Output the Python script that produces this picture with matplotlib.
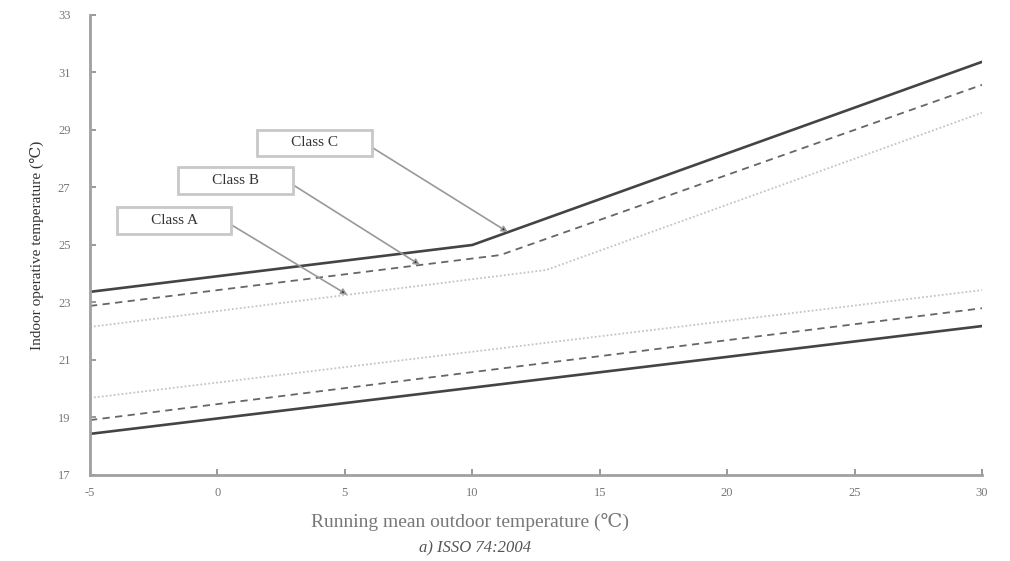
import numpy as np
import matplotlib
matplotlib.use("Agg")
import matplotlib.pyplot as plt

# ISSO 74:2004 comfort bands
# upper limits (piecewise: gentle slope, knee, steeper slope)
x_upper_a = [-5, 12.9, 30]
y_upper_a = [22.15, 24.13, 29.6]
x_upper_b = [-5, 11.1, 30]
y_upper_b = [22.88, 24.65, 30.57]
x_upper_c = [-5, 10.0, 30]
y_upper_c = [23.37, 25.0, 31.37]

# lower limits (straight)
x_lower = [-5, 30]
y_lower_a = [19.68, 23.43]
y_lower_b = [18.91, 22.8]
y_lower_c = [18.43, 22.18]

# callouts: label, arrow target x on upper line, label position
class_labels = ["Class A", "Class B", "Class C"]
target_x = [5.1, 7.95, 11.4]
label_x = [-1.7, 0.7, 3.8]
label_y = [25.85, 27.25, 28.55]

x_ticks = [-5, 0, 5, 10, 15, 20, 25, 30]
y_ticks = [17, 19, 21, 23, 25, 27, 29, 31, 33]

SERIF = ["Liberation Serif", "DejaVu Serif"]
plt.rcParams["font.family"] = SERIF
plt.rcParams["axes.unicode_minus"] = False

AXIS_GREY = "#a0a0a0"
TEXT_GREY = "#777777"

fig = plt.figure(figsize=(10.1, 5.61), dpi=100)
ax = fig.add_axes([0.0891, 0.1533, 0.8832, 0.82])

style = {
    "A": dict(color="#c4c4c4", ls=(0, (1, 1.2)), lw=1.3),
    "B": dict(color="#666666", ls=(0, (4, 3)), lw=1.3),
    "C": dict(color="#444444", ls="-", lw=1.9),
}

ax.plot(x_upper_a, y_upper_a, **style["A"])
ax.plot(x_upper_b, y_upper_b, **style["B"])
ax.plot(x_upper_c, y_upper_c, **style["C"])
ax.plot(x_lower, y_lower_a, **style["A"])
ax.plot(x_lower, y_lower_b, **style["B"])
ax.plot(x_lower, y_lower_c, **style["C"])

uppers = [(x_upper_a, y_upper_a), (x_upper_b, y_upper_b), (x_upper_c, y_upper_c)]
for lbl, tx, lx, ly, (ux, uy) in zip(class_labels, target_x, label_x, label_y, uppers):
    ty = np.interp(tx, ux, uy)
    ax.annotate("       " + lbl + "       ", xy=(tx, ty), xytext=(lx, ly),
                ha="center", va="center", fontsize=11, color="#333333",
                bbox=dict(boxstyle="square,pad=0.45", fc="white",
                          ec="#c8c8c8", lw=2),
                arrowprops=dict(arrowstyle="-|>", color="#999999", lw=1.2,
                                fc="#222222", ec="#999999",
                                relpos=(1.0, 0.5), shrinkA=0, shrinkB=0,
                                mutation_scale=9))

ax.set_xlim(-5, 30)
ax.set_ylim(17, 33)
ax.set_xticks(x_ticks)
ax.set_yticks(y_ticks)
ax.tick_params(direction="in", length=4, width=1.2, color="#888888",
               labelcolor=TEXT_GREY, labelsize=9)
ax.tick_params(axis="y", pad=14)
ax.tick_params(axis="x", pad=9)

for side in ("top", "right"):
    ax.spines[side].set_visible(False)
for side in ("left", "bottom"):
    ax.spines[side].set_color(AXIS_GREY)
    ax.spines[side].set_linewidth(2)

ax.set_ylabel("Indoor operative temperature (℃)", fontsize=11, color="#333333",
              labelpad=10)
fig.text(0.465, 0.07, "Running mean outdoor temperature (℃)", ha="center",
         va="center", fontsize=14, color=TEXT_GREY)
fig.text(0.47, 0.022, "a) ISSO 74:2004", ha="center", va="center",
         fontsize=12, style="italic", color="#555555")

fig.savefig("out.png", dpi=100)
